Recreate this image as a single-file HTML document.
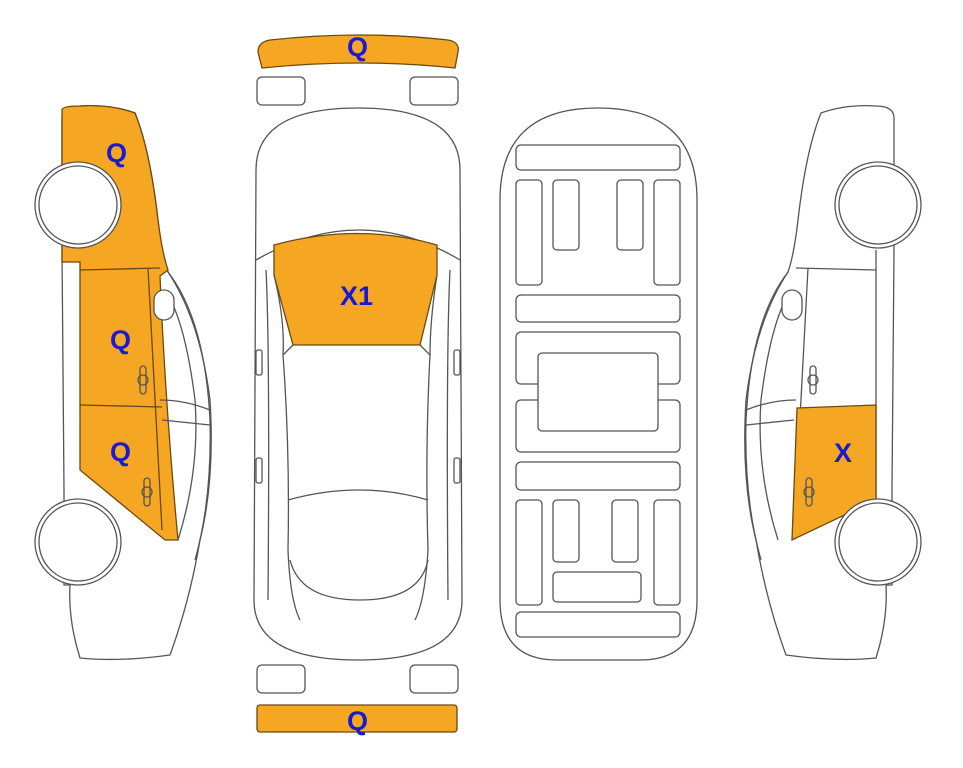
<!DOCTYPE html>
<html><head><meta charset="utf-8"><style>
body{margin:0;background:#fff}
svg{display:block}
text{font-family:"Liberation Sans",Arial,sans-serif;font-weight:bold;font-size:27px;fill:#1a1ad0}
</style></head><body>
<svg width="963" height="768" viewBox="0 0 963 768" xmlns="http://www.w3.org/2000/svg">
<g stroke="#555" stroke-width="1.3" fill="none">
<!-- LEFT CAR -->
<path d="M62,118 Q62,106 80,106 Q110,104 135,113 Q150,150 158,220 Q162,255 168,272 Q200,320 210,400 Q215,480 200,540 Q190,600 170,655 Q120,662 80,658 Q68,620 70,585 L64,585 L64,490 L62,250 L62,118 Z" fill="#fff"/>
<path d="M62,110 Q62,106 80,106 Q110,104 135,113 Q150,150 158,220 Q162,252 168,270 L160,276 Q165,400 178,540 L165,540 L80,470 L80,262 L62,262 Z" fill="#f5a623" stroke="#6a4a10"/>
<line x1="80" y1="270" x2="160" y2="268" stroke="#6a4a10"/>
<line x1="80" y1="405" x2="162" y2="407" stroke="#6a4a10"/>
<line x1="148" y1="268" x2="162" y2="530" stroke="#6a4a10"/>
<path d="M168,272 Q205,320 210,420 Q212,500 195,560"/>
<path d="M165,290 Q185,320 195,400 Q200,470 178,540"/>
<path d="M160,400 Q185,400 210,410 M162,420 L210,425"/>
<rect x="154" y="290" width="20" height="30" rx="10" fill="#fff"/>
<rect x="140" y="366" width="6" height="28" rx="3"/><circle cx="143" cy="380" r="5"/>
<rect x="144" y="478" width="6" height="28" rx="3"/><circle cx="147" cy="492" r="5"/>
<circle cx="78" cy="205" r="43" fill="#fff"/><circle cx="78" cy="205" r="39"/>
<circle cx="78" cy="542" r="43" fill="#fff"/><circle cx="78" cy="542" r="39"/>

<!-- TOP BUMPER -->
<path d="M262,68 L258,52 Q258,42 270,40 Q360,30 448,40 Q460,42 458,52 L455,68 Q360,58 262,68 Z" fill="#f5a623" stroke="#6a4a10"/>
<rect x="257" y="77" width="48" height="28" rx="5"/><rect x="410" y="77" width="48" height="28" rx="5"/>
<rect x="257" y="665" width="48" height="28" rx="5"/><rect x="410" y="665" width="48" height="28" rx="5"/>
<rect x="257" y="705" width="200" height="27" rx="3" fill="#f5a623" stroke="#6a4a10"/>

<!-- TOP VIEW CAR -->
<path d="M256,170 Q256,108 358,108 Q460,108 460,170 L462,600 Q462,660 358,660 Q254,660 254,600 Z" fill="#fff"/>
<path d="M256,260 Q360,200 460,260"/>
<path d="M274,245 Q358,222 437,245 L437,275 L420,345 L293,345 L274,275 Z" fill="#f5a623" stroke="#6a4a10"/>
<path d="M293,345 L283,355 Q290,450 288,550 Q290,600 300,620 M420,345 L430,355 Q425,450 428,550 Q425,600 415,620"/>
<path d="M288,500 Q360,480 428,500 M290,560 Q300,600 360,600 Q420,600 428,560"/>
<path d="M266,270 Q270,350 268,600 M450,270 Q446,350 448,600"/>
<path d="M274,275 Q285,320 283,355 M437,275 Q430,320 430,355"/>
<rect x="256" y="350" width="6" height="25" rx="2"/><rect x="454" y="350" width="6" height="25" rx="2"/>
<rect x="256" y="458" width="6" height="25" rx="2"/><rect x="454" y="458" width="6" height="25" rx="2"/>

<!-- UNDERSIDE -->
<path d="M500,200 Q500,108 598,108 Q697,108 697,200 L697,600 Q697,660 640,660 L557,660 Q500,660 500,600 Z" fill="#fff"/>
<rect x="516" y="145" width="164" height="25" rx="5"/>
<rect x="516" y="180" width="26" height="105" rx="4"/><rect x="654" y="180" width="26" height="105" rx="4"/>
<rect x="553" y="180" width="26" height="70" rx="4"/><rect x="617" y="180" width="26" height="70" rx="4"/>
<rect x="516" y="295" width="164" height="27" rx="5"/>
<rect x="516" y="332" width="164" height="52" rx="5"/><rect x="516" y="400" width="164" height="52" rx="5"/>
<rect x="538" y="353" width="120" height="78" rx="4" fill="#fff"/>
<rect x="516" y="462" width="164" height="28" rx="5"/>
<rect x="516" y="500" width="26" height="105" rx="4"/><rect x="654" y="500" width="26" height="105" rx="4"/>
<rect x="553" y="500" width="26" height="62" rx="4"/><rect x="612" y="500" width="26" height="62" rx="4"/>
<rect x="553" y="572" width="88" height="30" rx="4"/>
<rect x="516" y="612" width="164" height="25" rx="5"/>

<!-- RIGHT CAR -->
<path d="M894,118 Q894,106 876,106 Q846,104 821,113 Q806,150 798,220 Q794,255 788,272 Q756,320 746,400 Q741,480 756,540 Q766,600 786,655 Q836,662 876,658 Q888,620 886,585 L892,585 L892,490 L894,250 Z" fill="#fff"/>
<line x1="876" y1="250" x2="876" y2="500"/>
<line x1="876" y1="270" x2="796" y2="268"/>
<line x1="808" y1="268" x2="794" y2="530"/>
<path d="M788,272 Q751,320 746,420 Q744,500 761,560 M791,290 Q771,320 761,400 Q756,470 778,540"/>
<path d="M796,400 Q771,400 746,410 M794,420 L746,425"/>
<path d="M797,408 L876,405 L876,500 L792,540 Z" fill="#f5a623" stroke="#6a4a10"/>
<rect x="782" y="290" width="20" height="30" rx="10" fill="#fff"/>
<rect x="810" y="366" width="6" height="28" rx="3"/><circle cx="813" cy="380" r="5"/>
<rect x="806" y="478" width="6" height="28" rx="3"/><circle cx="809" cy="492" r="5"/>
<circle cx="878" cy="205" r="43" fill="#fff"/><circle cx="878" cy="205" r="39"/>
<circle cx="878" cy="542" r="43" fill="#fff"/><circle cx="878" cy="542" r="39"/>
</g>
<text x="106" y="162">Q</text>
<text x="110" y="349">Q</text>
<text x="110" y="461">Q</text>
<text x="347" y="56">Q</text>
<text x="347" y="730">Q</text>
<text x="340" y="305">X1</text>
<text x="834" y="462">X</text>
</svg>
</body></html>
